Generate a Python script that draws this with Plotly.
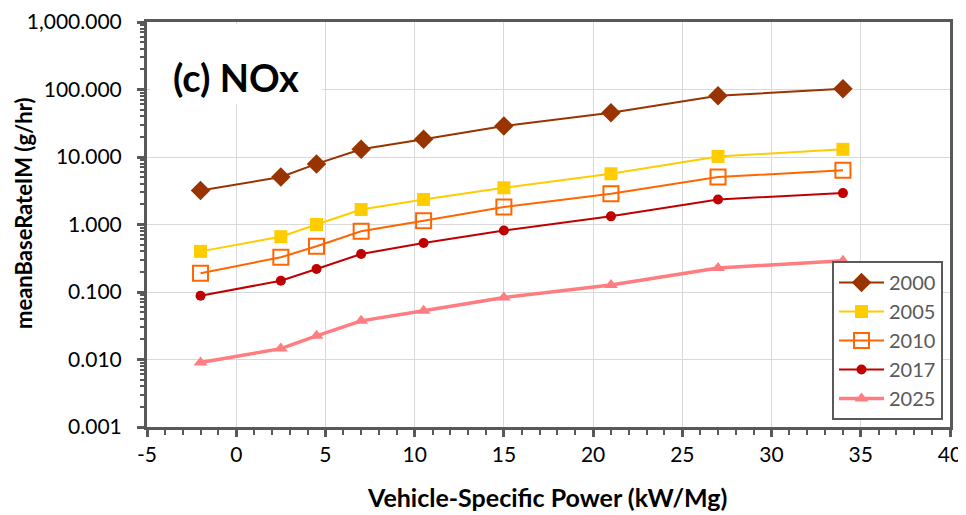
import plotly.graph_objects as go

vsp = [-2, 2.5, 4.5, 7, 10.5, 15, 21, 27, 34]
y2000 = [3.2, 5.05, 7.9, 13.0, 18.3, 28.9, 45.1, 80.5, 103]
y2005 = [0.40, 0.66, 1.0, 1.67, 2.35, 3.5, 5.65, 10.2, 13.0]
y2010 = [0.19, 0.327, 0.476, 0.795, 1.14, 1.81, 2.85, 5.05, 6.35]
y2017 = [0.088, 0.147, 0.219, 0.366, 0.533, 0.815, 1.32, 2.35, 2.92]
y2025 = [0.009, 0.0145, 0.0224, 0.0374, 0.0527, 0.083, 0.127, 0.227, 0.29]
years = ["2000", "2005", "2010", "2017", "2025"]
x_ticks = [-5, 0, 5, 10, 15, 20, 25, 30, 35, 40]
x_ticklabels = ["-5", "0", "5", "10", "15", "20", "25", "30", "35", "40"]

FONT = "Lato"
series = [
    (years[0], y2000, "#993300", dict(symbol="diamond", size=15, color="#993300"), 2),
    (years[1], y2005, "#FFCC00", dict(symbol="square", size=13, color="#FFCC00"), 2),
    (years[2], y2010, "#FF6600", dict(symbol="square-open", size=15, color="#FF6600", line=dict(width=2, color="#FF6600")), 2),
    (years[3], y2017, "#C00000", dict(symbol="circle", size=10, color="#C00000"), 2),
    (years[4], y2025, "#FF7C80", dict(symbol="triangle-up", size=12, color="#FF7C80"), 3.5),
]

fig = go.Figure()
for name, ys, col, mk, lw in series:
    fig.add_trace(go.Scatter(x=vsp, y=ys, name=name, mode="lines+markers",
                             line=dict(color=col, width=lw), marker=mk))

x_minor = [v for v in range(-5, 41) if v % 5 != 0]
y_minor = [m * 10 ** e for e in range(-3, 3) for m in range(2, 10)]

# page has an 8px body margin; plot area in page coords: x 147..950, y 22..427
W, H = 958, 507
L, T, R, B = 139, 14, 16, 88
PW, PH = W - L - R, H - T - B


def px(xp):
    return (xp - 8 - L) / PW


def py(yp):
    return (H - B - (yp - 8)) / PH


fig.update_layout(
    width=W, height=H,
    margin=dict(l=L, r=R, t=T, b=B),
    paper_bgcolor="white", plot_bgcolor="white",
    font=dict(family=FONT, size=21, color="black"),
    showlegend=True,
    legend=dict(x=px(943), y=py(420), xanchor="right", yanchor="bottom",
                bgcolor="white", bordercolor="#595959", borderwidth=2,
                font=dict(family=FONT, size=20, color="#595959"),
                tracegroupgap=0, itemwidth=45),
    xaxis=dict(range=[-5, 40], tickmode="array", tickvals=x_ticks, ticktext=x_ticklabels, automargin=False,
               showgrid=True, gridcolor="#d9d9d9", gridwidth=1,
               zeroline=False, showline=True, linecolor="#595959", linewidth=2.5, mirror=True,
               ticks="outside", ticklen=7, tickwidth=2.5, tickcolor="#595959",
               minor=dict(tickmode="array", tickvals=x_minor, ticks="outside", ticklen=5, tickwidth=2,
                          tickcolor="#595959", showgrid=False),
               tickfont=dict(size=21, color="black")),
    yaxis=dict(type="log", range=[-3, 3], dtick=1, tickformat=",.3f", automargin=False,
               showgrid=True, gridcolor="#d9d9d9", ticklabelstandoff=11,
               zeroline=False, showline=True, linecolor="#595959", linewidth=3, mirror=True,
               ticks="outside", ticklen=7, tickwidth=2.5, tickcolor="#595959",
               minor=dict(tickmode="array", tickvals=y_minor, ticks="outside", ticklen=4, tickwidth=2,
                          tickcolor="#595959", showgrid=False),
               tickfont=dict(size=21, color="black")),
)

fig.add_annotation(x=px(547), y=py(497), xref="paper", yref="paper",
                   text="<b>Vehicle-Specific Power (kW/Mg)</b>", showarrow=False,
                   xanchor="center", yanchor="middle",
                   font=dict(family=FONT, size=25, color="black"))
fig.add_annotation(x=px(23), y=py(214), xref="paper", yref="paper",
                   text="<b>meanBaseRateIM (g/hr)</b>", textangle=-90, showarrow=False,
                   xanchor="center", yanchor="middle",
                   font=dict(family=FONT, size=22, color="black"))

# white patch behind the panel label
fig.add_shape(type="rect", xref="paper", yref="paper", layer="above",
              x0=px(150), x1=px(322), y0=py(104), y1=py(24),
              fillcolor="white", line=dict(width=0))
fig.add_annotation(x=px(236), y=py(77), xref="paper", yref="paper", xanchor="center", yanchor="middle",
                   text="<b>(c) NOx</b>", showarrow=False,
                   font=dict(family=FONT, size=38, color="black"))

fig.write_html("out.html")
